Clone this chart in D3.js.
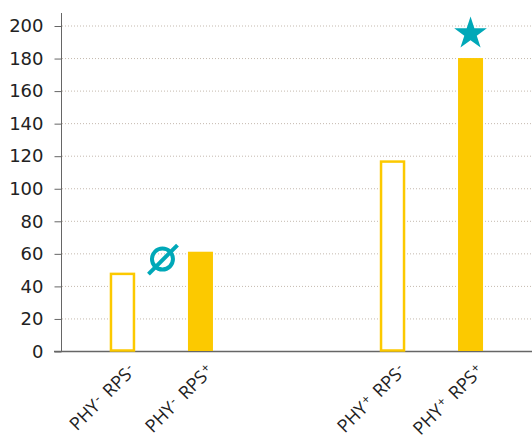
<!DOCTYPE html>
<html>
<head>
<meta charset="utf-8" />
<script src="https://d3js.org/d3.v7.min.js"></script>
<style>
  body { margin: 0; background: #fff; }
</style>
</head>
<body>
<svg id="chart" width="532" height="441"></svg>
<script>
// data
var groups = ["PHY-", "PHY+"];
var subgroups = ["RPS-", "RPS+"];
var values = [48, 61, 117, 180];          // PHY-RPS-, PHY-RPS+, PHY+RPS-, PHY+RPS+
var filled = [false, true, false, true];
var yTicks = [0, 20, 40, 60, 80, 100, 120, 140, 160, 180, 200];

var bars = [];
groups.forEach(function(g, gi) {
  subgroups.forEach(function(s, si) {
    var i = gi * 2 + si;
    bars.push({group: g, sub: s, value: values[i], filled: filled[i]});
  });
});

var yellow = "#fcc900", teal = "#00a8b8";
var svg = d3.select("#chart");
var left = 61, right = 532, axisTop = 13, bottom = 351;

var y = d3.scaleLinear().domain([0, 200]).range([bottom, 25.5]);
var xg = d3.scalePoint().domain(groups).range([left, right]).padding(0.372);
var off = {"RPS-": -39, "RPS+": 39};
var bw = 24;
function cx(d) { return xg(d.group) + off[d.sub]; }

// gridlines
svg.append("g").selectAll("line").data(yTicks.slice(1)).enter().append("line")
  .attr("x1", left + 1).attr("x2", right)
  .attr("y1", function(d) { return y(d) + 0.5; }).attr("y2", function(d) { return y(d) + 0.5; })
  .attr("stroke", "#c4b9ae").attr("stroke-dasharray", "1,2");

// y axis
var yAxis = svg.append("g").attr("transform", "translate(" + (left + 0.5) + ",0.5)")
  .call(d3.axisLeft(y).tickValues(yTicks).tickSize(7).tickPadding(11));
yAxis.select(".domain").remove();
yAxis.selectAll(".tick line").attr("stroke", "#666");
yAxis.selectAll(".tick text").style("font-size", "18px").attr("fill", "#222")
  .style("font-family", "'DejaVu Sans', Verdana, sans-serif");
svg.append("line").attr("x1", left + 0.5).attr("x2", left + 0.5).attr("y1", axisTop).attr("y2", bottom)
  .attr("stroke", "#666");
svg.append("line").attr("x1", 54).attr("x2", right).attr("y1", bottom + 0.5).attr("y2", bottom + 0.5)
  .attr("stroke", "#666").attr("stroke-width", 1.5);

// bars
svg.append("g").selectAll("rect").data(bars).enter().append("rect")
  .attr("x", function(d) { return cx(d) - bw / 2 + (d.filled ? -0.5 : 0.5); })
  .attr("width", function(d) { return d.filled ? bw + 1 : bw - 1; })
  .attr("y", function(d) { return y(d.value) + (d.filled ? 0 : 1); })
  .attr("height", function(d) { return bottom - y(d.value) - (d.filled ? 0 : 1.5); })
  .attr("fill", function(d) { return d.filled ? yellow : "#fff"; })
  .attr("stroke", yellow)
  .attr("stroke-width", function(d) { return d.filled ? 0 : 2.5; });

// x labels
var lab = svg.append("g").selectAll("text").data(bars).enter().append("text")
  .attr("transform", function(d) { return "translate(" + (cx(d) + 14) + "," + (bottom + 21) + ") rotate(-45)"; })
  .attr("text-anchor", "end")
  .attr("font-family", "'Open Sans', sans-serif")
  .attr("font-size", 18)
  .attr("fill", "#222");
lab.each(function(d) {
  var t = d3.select(this);
  t.append("tspan").text("PHY");
  t.append("tspan").attr("dy", -5).attr("dx", 1).attr("font-size", 13).text(d.group.slice(3));
  t.append("tspan").attr("dy", 5).attr("dx", 3).text(" RPS");
  t.append("tspan").attr("dy", -5).attr("dx", 1).attr("font-size", 13).text(d.sub.slice(3));
});

// annotations
var star = bars[3];
svg.append("path")
  .attr("d", d3.symbol().type(d3.symbolStar).size(330)())
  .attr("transform", "translate(" + cx(star) + "," + y(195) + ")")
  .attr("fill", teal);

var nx = xg("PHY-") + 1, ny = y(56.5);
var ann = svg.append("g").attr("transform", "translate(" + nx + "," + ny + ")");
ann.append("circle").attr("r", 10.5).attr("fill", "none").attr("stroke", teal).attr("stroke-width", 4);
ann.append("line").attr("x1", -14).attr("y1", 15).attr("x2", 15).attr("y2", -14)
  .attr("stroke", teal).attr("stroke-width", 4);
</script>
</body>
</html>
